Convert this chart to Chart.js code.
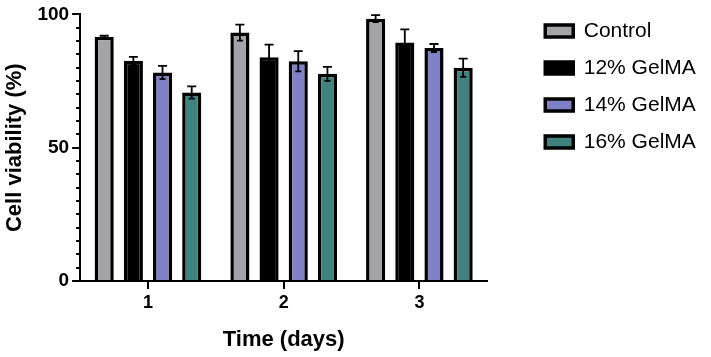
<!DOCTYPE html>
<html>
<head>
<meta charset="utf-8">
<script src="https://cdn.jsdelivr.net/npm/chart.js@4.4.1/dist/chart.umd.min.js"></script>
<style>
  html, body { margin: 0; padding: 0; background: #fff; }
  #wrap { width: 711px; height: 357px; }
</style>
</head>
<body>
<div id="wrap"><canvas id="myChart"></canvas></div>
<script>
const days = ['1', '2', '3']
const seriesNames = ['Control', '12% GelMA', '14% GelMA', '16% GelMA']
const control = [91.6, 93.2, 98.4]
const gel12 = [82.6, 83.9, 89.5]
const gel14 = [78.2, 82.4, 87.4]
const gel16 = [70.7, 77.7, 80.0]
const controlErr = [0.4, 3.0, 1.3]
const gel12Err = [1.5, 4.8, 4.9]
const gel14Err = [2.5, 3.8, 1.5]
const gel16Err = [2.3, 2.6, 3.4]
const fills = ['#a4a4a8', '#000000', '#8080c6', '#3f827e']

const values = [control, gel12, gel14, gel16]
const errors = [controlErr, gel12Err, gel14Err, gel16Err]

const font = "'Liberation Sans', Arial, sans-serif"

// error bars drawn from the y scale
const errorBars = {
    id: 'errorBars',
    afterDatasetsDraw(chart) {
        const ctx = chart.ctx
        const y = chart.scales.y
        ctx.save()
        ctx.strokeStyle = '#000'
        ctx.lineWidth = 1.8
        chart.data.datasets.forEach((ds, i) => {
            const meta = chart.getDatasetMeta(i)
            meta.data.forEach((bar, j) => {
                const v = ds.data[j]
                const e = ds.errors[j]
                const top = y.getPixelForValue(v + e)
                const bot = y.getPixelForValue(v - e)
                ctx.beginPath()
                ctx.moveTo(bar.x, bot)
                ctx.lineTo(bar.x, top)
                ctx.moveTo(bar.x - 4.5, top)
                ctx.lineTo(bar.x + 4.5, top)
                ctx.moveTo(bar.x - 3, bot)
                ctx.lineTo(bar.x + 3, bot)
                ctx.stroke()
            })
        })
        ctx.restore()
    }
}

// small ticks on the y axis between the labelled ones
const minorTicks = {
    id: 'minorTicks',
    afterDraw(chart) {
        const ctx = chart.ctx
        const y = chart.scales.y
        const x0 = chart.chartArea.left
        ctx.save()
        ctx.strokeStyle = '#000'
        ctx.lineWidth = 2
        for (let v = 5; v < 100; v += 5) {
            if (v % 50 === 0) continue
            const py = Math.round(y.getPixelForValue(v))
            ctx.beginPath()
            ctx.moveTo(x0 - 4, py)
            ctx.lineTo(x0, py)
            ctx.stroke()
        }
        ctx.restore()
    }
}

const data = {
    labels: days,
    datasets: values.map((vals, i) => ({
        label: seriesNames[i],
        data: vals,
        errors: errors[i],
        backgroundColor: fills[i],
        borderColor: '#000',
        borderWidth: 3.5,
        barPercentage: 0.655,
        categoryPercentage: 0.86
    }))
}

let myChart = new Chart(document.getElementById('myChart').getContext('2d'), {
    type: 'bar',
    data: data,
    plugins: [errorBars, minorTicks],
    options: {
        responsive: true,
        maintainAspectRatio: false,
        animation: false,
        layout: {
            padding: { left: 2, right: 6, top: 4.5, bottom: 4 }
        },
        plugins: {
            tooltip: { enabled: false },
            legend: {
                position: 'right',
                align: 'start',
                labels: {
                    color: '#000',
                    boxWidth: 28,
                    boxHeight: 12,
                    padding: 16,
                    font: { family: font, size: 21 }
                }
            }
        },
        scales: {
            x: {
                grid: {
                    offset: false,
                    drawOnChartArea: false,
                    tickLength: 8,
                    lineWidth: 2,
                    color: '#000'
                },
                border: { color: '#000', width: 2 },
                ticks: {
                    color: '#000',
                    padding: 3,
                    font: { family: font, size: 18, weight: 'bold' }
                },
                title: {
                    display: true,
                    text: 'Time (days)',
                    color: '#000',
                    padding: { top: 10, bottom: 0 },
                    font: { family: font, size: 22, weight: 'bold' }
                }
            },
            y: {
                min: 0,
                max: 100,
                grid: {
                    drawOnChartArea: false,
                    tickLength: 8,
                    lineWidth: 2,
                    color: '#000'
                },
                border: { color: '#000', width: 2 },
                ticks: {
                    stepSize: 50,
                    color: '#000',
                    padding: 3,
                    font: { family: font, size: 19, weight: 'bold' }
                },
                title: {
                    display: true,
                    text: 'Cell viability (%)',
                    color: '#000',
                    padding: { top: 0, bottom: 6 },
                    font: { family: font, size: 22, weight: 'bold' }
                }
            },
            // hidden axis that only leaves a gap before the legend
            gap: {
                type: 'linear',
                position: 'right',
                display: false,
                afterFit: scale => { scale.width = 42 }
            }
        }
    }
})
</script>
</body>
</html>
